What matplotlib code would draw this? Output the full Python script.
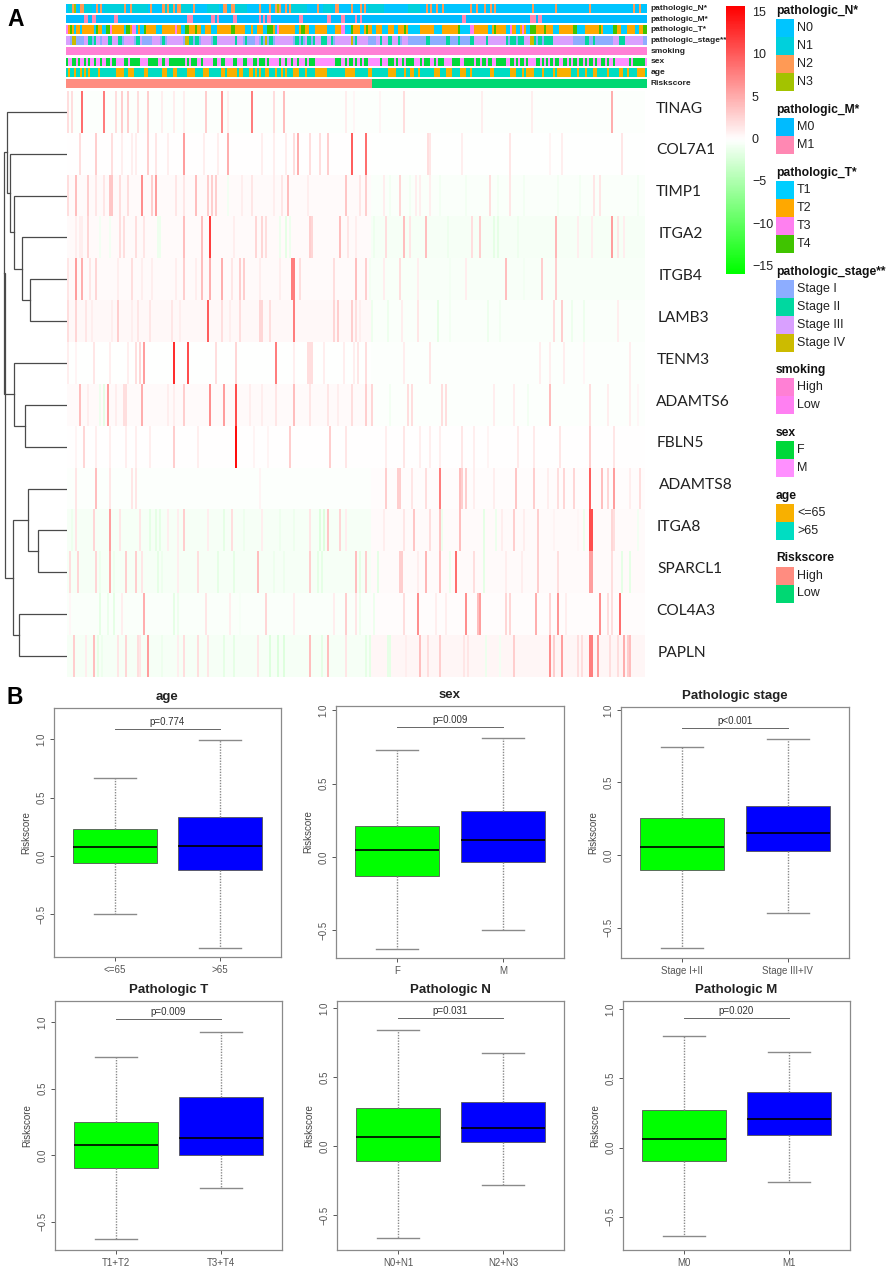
import matplotlib
matplotlib.use("Agg")
import matplotlib.pyplot as plt
import numpy as np
from matplotlib.colors import LinearSegmentedColormap, ListedColormap
from matplotlib.patches import Rectangle

plt.rcParams['font.family'] = ['Liberation Sans', 'DejaVu Sans']

W, H = 892, 1266

genes = ["TINAG", "COL7A1", "TIMP1", "ITGA2", "ITGB4", "LAMB3", "TENM3",
         "ADAMTS6", "FBLN5", "ADAMTS8", "ITGA8", "SPARCL1", "COL4A3", "PAPLN"]
gene_label_x = [656, 656, 656, 659, 659, 658, 657, 656, 657, 659, 657, 657, 656, 658]
n_samples = 289
n_high = 152

# background level of each row, high risk side then low risk side
base_high = [-0.2, 0.1, 0.3, 0.3, 0.3, 0.4, -0.1, 0.3, 0.1, -0.2, -0.5, -0.5, -0.3, -0.6]
base_low = [-0.2, -0.1, -0.3, -0.5, -0.4, -0.3, -0.2, -0.2, 0.1, 0.2, 0.3, 0.3, 0.2, 0.6]

# (sample, expression)
TINAG = [(0, 2), (2, 2), (7, 9), (18, 8), (24, 2), (27, 3), (30, 3), (35, 2), (40, 3), (47, 1), (53, 1), (58, 1),
         (69, 3), (77, 7), (80, 1), (92, 8), (103, 2), (108, 4), (139, 1), (143, .5), (156, .7), (168, 2), (207, 1),
         (232, 1), (272, 5)]
COL7A1 = [(6, 2), (14, 3), (22, 2), (27, 1), (32, 1), (34, 1), (40, 3), (44, 1.5), (50, 1), (58, 6), (68, 1), (75, 1),
          (80, 5), (97, 1), (103, 1), (109, 1), (113, 2), (115, 5), (121, 2), (126, 2), (130, 3), (142, 10), (149, 9),
          (180, 2), (181, 1.5), (197, 1), (221, 1.5), (241, .7), (247, 1), (277, 1.5)]
TIMP1 = [(0, 2), (4, 4), (10, 3), (14, 1.5), (18, 1.5), (21, 3.5), (22, 3.5), (26, 2), (30, 2), (37, 7), (42, 3), (44, 6),
         (54, 1.5), (58, 1.5), (64, 4), (70, 3), (72, 3), (74, 3), (80, -.7), (87, 1), (92, 1.5), (103, 1), (107, 1.5),
         (110, 4), (120, 1), (139, 3.5), (146, 1.5), (149, 3), (158, 1), (161, -.7), (166, 2.5), (171, -.7), (174, 1),
         (176, 1), (181, 1), (186, -.7), (199, -.7), (211, 2), (215, -.7), (221, 1.5), (228, -.7), (245, -.7),
         (256, -.7), (263, 1.5), (266, 1.5), (285, -.7)]
ITGA2 = [(4, 1), (6, 1), (7, 1), (10, 2.5), (16, -.7), (21, -.7), (26, 2), (28, 2), (34, 2), (38, 1.5), (45, -1), (46, -1),
         (58, 4), (67, 4), (71, 12), (83, 1), (94, 2.5), (97, 2.5), (99, 2), (106, -1), (109, -1.5), (111, -1), (121, 3),
         (122, 2.5), (136, 4), (140, 1.5), (144, 1), (153, -1), (159, 2), (168, 4), (171, 1.5), (179, 4), (190, -1),
         (202, 2), (206, 3), (213, -1.5), (215, -1.5), (225, -1), (244, 4.5), (255, 1), (262, 1), (272, 6), (275, 1.5),
         (278, 1)]
ITGB4 = [(0, 1.5), (4, 6), (7, 5), (11, 1.5), (14, 2.5), (25, 1), (32, 2), (37, 1), (42, 1), (54, 1), (58, 3), (64, 1),
         (67, 4), (71, 5), (77, 5), (82, 1.5), (86, 3), (88, 3), (96, 1), (106, 1), (112, 8), (113, 8), (116, 2), (133, 2),
         (144, 4), (149, 3), (151, -.7), (158, 1), (166, 2), (175, 1), (191, -.7), (199, 1), (219, 4), (228, -.7),
         (237, 3), (244, 3)]
LAMB3 = [(0, 2), (4, 2.5), (9, 1.5), (12, 1), (22, 1), (25, 3), (32, 1), (35, 1.5), (41, 1.5), (52, 1.5), (56, 1), (70, 10),
         (77, 2), (81, 1), (86, 2), (96, 2.5), (97, 2.5), (101, 2), (113, 8), (133, 2.5), (135, 3), (142, 3), (144, 2),
         (146, 1), (152, -1), (160, -1), (167, 1), (175, 1.5), (185, -1.5), (191, -.7), (210, -1), (216, -.8), (243, 2),
         (247, 3), (252, -1), (258, -1), (275, 1)]
TENM3 = [(0, 1), (4, .7), (13, 1.5), (21, 1), (30, 1), (34, 2), (36, 2.5), (38, 6), (53, 13), (60, 11), (74, 2), (84, 2.5),
         (104, 8), (113, 1), (120, 2), (121, 2), (122, 2), (128, 1), (138, 1), (143, 1), (145, 1.5), (149, 2), (168, 1),
         (181, 1.5), (236, 1), (241, 1), (248, 1), (258, .5), (281, 1)]
ADAMTS6 = [(6, 4), (10, 1), (16, -1), (18, -1.5), (20, 6), (24, 1), (28, 2), (29, 2), (37, 5), (50, 1), (53, 1), (58, 3),
           (71, 7), (78, 6), (84, 11), (91, 1), (97, 1), (104, 1.5), (113, 4), (121, 1.5), (130, 1.5), (135, 1), (142, 2),
           (149, 3), (152, 2.5), (161, -.7), (170, 2), (172, 2), (187, 2), (189, 2), (213, 1), (223, 1), (230, -.7),
           (241, 4), (261, 2), (270, 1), (281, 1), (285, .5)]
FBLN5 = [(4, .7), (8, 2.5), (14, 1), (21, 1), (29, 1), (34, 1), (41, 1), (53, 3), (65, 1), (84, 15), (93, .7), (100, .7),
         (111, 3), (131, 3), (139, 1.5), (159, 1), (168, 1.5), (176, 1), (181, 1), (186, 1), (197, 1.5), (203, 1),
         (210, .7), (225, 1.3), (233, 1.3), (246, 1.5), (261, 3), (273, 1.5)]
ADAMTS8 = [(4, 1.5), (14, 4), (21, 1.5), (32, 1.5), (34, 1.5), (96, .7), (159, 3), (165, 3), (166, 3), (172, 1.5), (179, 2),
           (186, 8), (196, 4), (197, 3), (199, 3), (203, 1), (213, 1), (224, 3.5), (233, 3), (240, 1), (245, 2), (248, 2.5),
           (253, 2.5), (261, 10), (267, 4), (270, 2.5), (273, 6), (281, 1), (286, 2)]
ITGA8 = [(2, -1), (4, 1.5), (13, 2.5), (21, 6), (26, 1.5), (31, -.5), (36, 1.5), (41, -1.5), (44, -1.5), (46, -1.5), (50, 1),
         (55, 1), (58, 3), (70, 1), (78, -1.5), (82, 2), (88, -1), (97, 1), (106, -1), (113, -1), (121, 1.5), (126, -2),
         (128, -2), (130, 3.5), (136, 2.5), (139, 1), (158, 1), (168, 1.5), (173, 3.5), (181, 2), (186, 3.5), (187, -1),
         (196, 4), (208, -1.5), (214, -1), (217, 1), (223, 3), (228, 1), (235, 3), (243, .7), (255, .5), (258, -1),
         (261, 11), (262, 11), (272, 2.5), (273, 2), (285, -.7)]
SPARCL1 = [(1, 2), (5, 2.5), (14, 2.5), (16, -1), (21, 5), (23, -1), (29, 3), (34, 3), (37, 1.5), (45, -1.5), (47, -1), (55, 1),
           (65, 2), (70, -.5), (75, -1.5), (83, -1.5), (95, 4), (103, -1), (108, -1), (121, 3), (125, -1.5), (127, -1.5),
           (143, -.5), (144, 4), (146, -1.5), (149, 3), (155, -1.5), (166, 3), (167, 3), (175, 1), (179, 4.5), (186, 4),
           (191, -1), (194, 9), (203, 2), (208, -1.5), (219, 1), (227, 1), (235, 3), (245, 2), (261, 6), (262, 6), (272, 2),
           (277, -1.5), (281, -1.5)]
COL4A3 = [(1, .5), (16, -1.5), (20, -1.2), (23, -1.5), (27, 1), (38, 5), (53, -1.5), (55, -1), (69, 1.5), (81, 1), (86, -.5),
          (99, 2.5), (113, 1), (133, 1), (139, 3), (144, 1.5), (146, -1), (153, -1), (168, 2), (175, 7), (184, 1), (189, 1),
          (199, 7), (205, 4), (206, 6), (219, 2.5), (221, 2.5), (234, 5), (241, 2.5), (245, 6.5), (249, 1), (266, 7),
          (270, 2), (272, 2), (276, 9)]
PAPLN = [(3, 3), (9, 1), (13, 4), (15, -1.5), (17, -1), (25, 1.5), (29, 2.5), (35, 2), (36, 1.5), (40, 6), (47, -1), (55, 1),
         (58, 2), (65, 2), (70, 1.5), (78, -1.5), (83, -1.5), (95, 1.5), (101, -2), (105, -2), (108, -2), (121, 4), (127, -1.5),
         (130, 4), (139, 1.5), (149, -1.5), (151, -1.5), (160, -1.5), (161, -1.5), (169, 1), (176, 4), (180, 2), (186, 3),
         (198, 1.5), (200, 1.5), (209, -1), (216, -.7), (223, 3), (241, 7), (243, 3), (247, 6), (255, 2), (257, 2),
         (261, 8), (262, 8), (265, 6), (271, 2), (275, 2), (278, 5), (280, 3), (281, 4)]
gene_stripes = [TINAG, COL7A1, TIMP1, ITGA2, ITGB4, LAMB3, TENM3, ADAMTS6, FBLN5, ADAMTS8, ITGA8, SPARCL1, COL4A3, PAPLN]

# clustering: (height, left, right), leaves are row numbers
tree = (62.5,
        (63, (60, 0, (57, 1, (53, (45, 3, (37, 4, 5)), 2))), (53, 6, (42, 7, 8))),
        (54.5, (39, 9, (29, 10, 11)), (48.5, 12, 13)))

# annotation tracks, intervals of samples that differ from the base class
track_names = ["pathologic_N*", "pathologic_M*", "pathologic_T*", "pathologic_stage**", "smoking", "sex", "age", "Riskscore"]
N_classes = {
    1: [(1, 3), (9, 13), (19, 29), (33, 41), (49, 54), (57, 62), (70, 76), (84, 90), (112, 120), (128, 133), (150, 158), (170, 176)],
    2: [(3, 4), (7, 9), (15, 16), (17, 18), (29, 30), (32, 33), (42, 43), (48, 49), (50, 51), (53, 54), (55, 57), (63, 64), (78, 80),
        (82, 84), (96, 97), (101, 102), (104, 105), (106, 107), (109, 110), (111, 112), (125, 126), (134, 136), (142, 143),
        (146, 147), (148, 149), (179, 180), (181, 182), (184, 185), (187, 188), (201, 202), (204, 205), (208, 209), (211, 212),
        (213, 214), (232, 233), (243, 244), (260, 261), (282, 283), (285, 286)],
    3: [(4, 5), (105, 106)],
}
M_classes = {1: [(9, 11), (13, 15), (24, 26), (60, 63), (72, 74), (75, 76), (83, 85), (96, 97), (98, 99), (100, 102), (116, 118),
                 (130, 132), (137, 139), (144, 145), (146, 147), (197, 199), (231, 234), (235, 237)]}
T_classes = {
    0: [(4, 5), (7, 8), (14, 15), (18, 20), (29, 30), (35, 36), (37, 39), (45, 48), (57, 59), (67, 69), (72, 75), (89, 92), (93, 95),
        (98, 100), (104, 105), (114, 116), (121, 124), (130, 134), (139, 142), (146, 148), (152, 154), (157, 160), (163, 165),
        (170, 176), (183, 187), (196, 201), (210, 212), (219, 221), (224, 226), (229, 231), (242, 245), (254, 258), (267, 272),
        (276, 279), (283, 285)],
    2: [(0, 1), (22, 23), (33, 35), (54, 55), (105, 106), (137, 139), (201, 203), (221, 222), (227, 228)],
    3: [(2, 3), (15, 16), (20, 22), (30, 32), (39, 40), (59, 61), (64, 65), (82, 84), (100, 103), (117, 119), (142, 143), (149, 150),
        (168, 169), (195, 196), (213, 214), (231, 234), (238, 239), (252, 254), (265, 266), (272, 274), (287, 289)],
}
stage_classes = {
    2: [(0, 2), (9, 11), (15, 17), (18, 21), (23, 26), (29, 34), (37, 38), (43, 47), (50, 58), (67, 72), (75, 84), (85, 88), (94, 96),
        (104, 113), (119, 120), (124, 127), (130, 132), (134, 142), (145, 150), (154, 156), (157, 160), (162, 165), (167, 170),
        (203, 209), (210, 219), (228, 231), (242, 252), (272, 275), (278, 287)],
    1: [(11, 13), (14, 15), (21, 23), (26, 28), (35, 37), (48, 49), (61, 63), (64, 66), (73, 75), (84, 85), (89, 90), (97, 98), (101, 103),
        (114, 116), (117, 118), (120, 122), (123, 124), (127, 130), (132, 133), (144, 145), (156, 157), (160, 162), (165, 166), (179, 181),
        (189, 191), (195, 196), (201, 203), (209, 210), (219, 220), (221, 224), (225, 228), (233, 234), (235, 237), (238, 242), (258, 260),
        (262, 263), (275, 278)],
    3: [(3, 5), (59, 61), (99, 100), (142, 143), (231, 233)],
}
smoking_classes = {}
sex_classes = {0: [(0, 1), (3, 5), (6, 7), (9, 10), (11, 12), (14, 15), (17, 18), (20, 22), (23, 25), (29, 31), (32, 33), (33, 37), (41, 42),
                   (42, 46), (48, 49), (51, 59), (60, 61), (62, 65), (67, 68), (73, 75), (77, 78), (78, 79), (83, 85), (88, 90), (93, 95),
                   (96, 99), (100, 101), (106, 107), (109, 110), (112, 113), (115, 116), (119, 120), (121, 124), (134, 137), (139, 140),
                   (141, 143), (144, 145), (146, 147), (148, 149), (149, 150), (156, 157), (160, 163), (164, 165), (167, 168), (169, 173),
                   (176, 177), (178, 181), (183, 184), (185, 188), (192, 196), (198, 203), (204, 206), (207, 209), (210, 212), (214, 219),
                   (221, 223), (224, 225), (226, 228), (229, 230), (234, 236), (237, 238), (239, 240), (241, 242), (243, 245), (247, 249),
                   (250, 251), (252, 254), (255, 257), (258, 259), (260, 262), (263, 264), (266, 268), (269, 270), (272, 273), (280, 281),
                   (282, 288)]}
age_classes = {0: [(1, 2), (4, 5), (7, 8), (9, 10), (11, 12), (16, 17), (25, 29), (31, 34), (39, 41), (48, 50), (53, 55), (60, 64), (68, 71),
                   (77, 79), (80, 85), (86, 88), (91, 93), (94, 95), (96, 97), (99, 101), (104, 105), (107, 108), (109, 110), (113, 116),
                   (119, 120), (124, 130), (139, 144), (150, 152), (160, 164), (168, 169), (171, 173), (175, 176), (183, 186), (189, 192),
                   (196, 199), (201, 202), (211, 213), (221, 224), (227, 228), (229, 233), (237, 238), (242, 243), (244, 251), (254, 255),
                   (258, 259), (262, 264), (269, 270), (275, 277), (279, 280), (284, 288)]}
risk_classes = {1: [(n_high, n_samples)]}
track_base = [0, 0, 1, 0, 0, 1, 1, 0]
track_classes = [N_classes, M_classes, T_classes, stage_classes, smoking_classes, sex_classes, age_classes, risk_classes]

legend_titles = ["pathologic_N*", "pathologic_M*", "pathologic_T*", "pathologic_stage**", "smoking", "sex", "age", "Riskscore"]
legend_labels = [["N0", "N1", "N2", "N3"], ["M0", "M1"], ["T1", "T2", "T3", "T4"], ["Stage I", "Stage II", "Stage III", "Stage IV"],
                 ["High", "Low"], ["F", "M"], ["<=65", ">65"], ["High", "Low"]]
legend_colors = [["#00c5ff", "#00d0dc", "#ff9a55", "#a3c300"], ["#00bbff", "#ff88b3"],
                 ["#00ceff", "#ffa800", "#ff80f0", "#40c400"], ["#8dadff", "#00d8a0", "#d9a0ff", "#ccbb00"],
                 ["#ff80d5", "#ff80f2"], ["#00d83a", "#ff90ff"], ["#f8b000", "#00ddc2"], ["#ff8c80", "#00d873"]]
legend_top = [19, 118, 181, 280, 378, 441, 504, 566.5]
colorbar_ticks = [15, 10, 5, 0, -5, -10, -15]

# panel B
box_titles = ["age", "sex", "Pathologic stage", "Pathologic T", "Pathologic N", "Pathologic M"]
box_groups = [["<=65", ">65"], ["F", "M"], ["Stage I+II", "Stage III+IV"], ["T1+T2", "T3+T4"], ["N0+N1", "N2+N3"], ["M0", "M1"]]
box_p = ["p=0.774", "p=0.009", "p<0.001", "p=0.009", "p=0.031", "p=0.020"]
q1_low = [-0.06, -0.13, -0.105, -0.10, -0.11, -0.10]
q1_high = [-0.12, -0.035, 0.025, 0.0, 0.025, 0.09]
med_low = [0.075, 0.05, 0.055, 0.075, 0.065, 0.065]
med_high = [0.09, 0.115, 0.15, 0.13, 0.13, 0.205]
q3_low = [0.235, 0.21, 0.255, 0.245, 0.275, 0.275]
q3_high = [0.33, 0.315, 0.34, 0.435, 0.32, 0.405]
wlo_low = [-0.50, -0.63, -0.64, -0.63, -0.67, -0.64]
wlo_high = [-0.79, -0.50, -0.40, -0.25, -0.28, -0.25]
whi_low = [0.67, 0.73, 0.745, 0.74, 0.84, 0.81]
whi_high = [0.99, 0.81, 0.80, 0.925, 0.67, 0.69]
bracket_y = [1.09, 0.885, 0.875, 1.02, 0.925, 0.935]
box_ylim = [(-0.865, 1.268), (-0.69, 1.03), (-0.71, 1.02), (-0.714, 1.158), (-0.754, 1.05), (-0.74, 1.06)]
box_frames = [(54, 708, 281, 957), (336, 706, 564, 958), (621, 707, 849, 958),
              (55, 1001, 282, 1250), (337, 1001, 564, 1250), (623, 1001, 850, 1250)]


def px_axes(fig, left, top, right, bottom):
    return fig.add_axes([left / W, 1 - bottom / H, (right - left) / W, (bottom - top) / H])


def draw_tree(ax, node, leaf_y):
    # returns the y and height of the node
    if not isinstance(node, tuple):
        return leaf_y[node], 0
    h, a, b = node
    ya, ha = draw_tree(ax, a, leaf_y)
    yb, hb = draw_tree(ax, b, leaf_y)
    ax.plot([ha, h, h, hb], [ya, ya, yb, yb], color="#4a4a4a", lw=0.9, solid_joinstyle="miter")
    return (ya + yb) / 2, h


fig = plt.figure(figsize=(W / 100, H / 100), dpi=100)

overlay = fig.add_axes([0, 0, 1, 1], zorder=5)
overlay.set_xlim(0, W)
overlay.set_ylim(H, 0)
overlay.axis("off")
overlay.patch.set_alpha(0)

# heatmap
heat = np.zeros((len(genes), n_samples))
for i in range(len(genes)):
    heat[i, :n_high] = base_high[i]
    heat[i, n_high:] = base_low[i]
    for col, value in gene_stripes[i]:
        heat[i, col] = value

vmax = 15.85
heat_cmap = LinearSegmentedColormap.from_list("gwr", ["#00ff00", "#ffffff", "#ff0000"], N=256)
ax = px_axes(fig, 67, 91, 645, 677)
ax.imshow(heat, cmap=heat_cmap, vmin=-vmax, vmax=vmax, aspect="auto", interpolation="nearest")
ax.axis("off")

# dendrogram
ax = px_axes(fig, 0, 91, 67, 677)
ax.set_xlim(67, 0)
ax.set_ylim(len(genes), 0)
ax.axis("off")
draw_tree(ax, tree, [i + 0.5 for i in range(len(genes))])

for i, gene in enumerate(genes):
    overlay.text(gene_label_x[i], 91 + 41.86 * (i + 0.42), gene, fontsize=11.2, color="#222222", va="center", family="Lato")

# annotation tracks
for t in range(len(track_names)):
    row = np.full(n_samples, track_base[t])
    for cls, spans in track_classes[t].items():
        for s, e in spans:
            row[s:e] = cls
    top = 4 + 10.7 * t
    ax = px_axes(fig, 66, top, 647, top + 8.7)
    ax.imshow(row[None, :], cmap=ListedColormap(legend_colors[t]), vmin=0, vmax=len(legend_colors[t]) - 1,
              aspect="auto", interpolation="nearest")
    ax.axis("off")
    overlay.text(650.5, top + 4.4, track_names[t], fontsize=6, fontweight="bold", color="#222222", va="center")

# colour bar
ax = px_axes(fig, 725.7, 5.5, 744, 274)
ax.set_zorder(6)
ax.imshow(np.linspace(vmax, -vmax, 100)[:, None], cmap=heat_cmap, vmin=-vmax, vmax=vmax, aspect="auto",
          extent=[0, 1, -vmax, vmax])
ax.axis("off")
for tick in colorbar_ticks:
    overlay.text(752, 140 - tick * 8.47, str(tick).replace("-", "\u2212"), fontsize=9, color="#222222", va="center")

# legends
for title, labels, colors, top in zip(legend_titles, legend_labels, legend_colors, legend_top):
    overlay.text(776, top - 8.3, title, fontsize=8.7, fontweight="bold", color="#111111", va="center")
    for k in range(len(labels)):
        overlay.add_patch(Rectangle((776, top + 18 * k), 17.7, 18, facecolor=colors[k], edgecolor="none"))
        overlay.text(797, top + 18 * k + 9, labels[k], fontsize=9, color="#222222", va="center")

overlay.text(7, 19, "A", fontsize=16.5, fontweight="bold", va="center")
overlay.text(7, 697, "B", fontsize=16.5, fontweight="bold", va="center")

# box plots
grey = "#8a8a8a"
for i in range(6):
    ax = px_axes(fig, *box_frames[i])
    stats = [dict(q1=q1_low[i], med=med_low[i], q3=q3_low[i], whislo=wlo_low[i], whishi=whi_low[i], fliers=[]),
             dict(q1=q1_high[i], med=med_high[i], q3=q3_high[i], whislo=wlo_high[i], whishi=whi_high[i], fliers=[])]
    parts = ax.bxp(stats, positions=[1, 2], widths=0.8, patch_artist=True, showfliers=False,
                   boxprops=dict(edgecolor="#555555", linewidth=0.6),
                   medianprops=dict(color="black", linewidth=1.2, solid_capstyle="butt"),
                   whiskerprops=dict(color=grey, linewidth=1.0, linestyle=(0, (1, 1))),
                   capprops=dict(color=grey, linewidth=1.0), capwidths=0.4)
    parts["boxes"][0].set_facecolor("#00ff00")
    parts["boxes"][1].set_facecolor("#0000ff")
    ax.set_xlim(0.42, 2.58)
    ax.set_ylim(*box_ylim[i])
    ax.set_xticks([1, 2], box_groups[i])
    ax.set_yticks([-0.5, 0.0, 0.5, 1.0], ["\u22120.5", "0.0", "0.5", "1.0"])
    ax.tick_params(axis="x", labelsize=7, colors="#555555", length=3, width=0.7, pad=2.5)
    ax.tick_params(axis="y", labelsize=7, colors="#555555", length=3, width=0.7, pad=2.5)
    for lab in ax.get_yticklabels():
        lab.set_rotation(90)
        lab.set_va("center")
    for side in ax.spines.values():
        side.set_color(grey)
        side.set_linewidth(0.9)
    ax.set_ylabel("Riskscore", fontsize=7, color="#444444", labelpad=4)
    ax.set_title(box_titles[i], fontsize=9.5, fontweight="bold", color="#222222", pad=6)
    ax.plot([1, 2], [bracket_y[i], bracket_y[i]], color="#666666", lw=0.7)
    ax.text(1.5, bracket_y[i] + 0.015, box_p[i], fontsize=7, color="#333333", ha="center", va="bottom")

fig.savefig("out.png", dpi=100)
